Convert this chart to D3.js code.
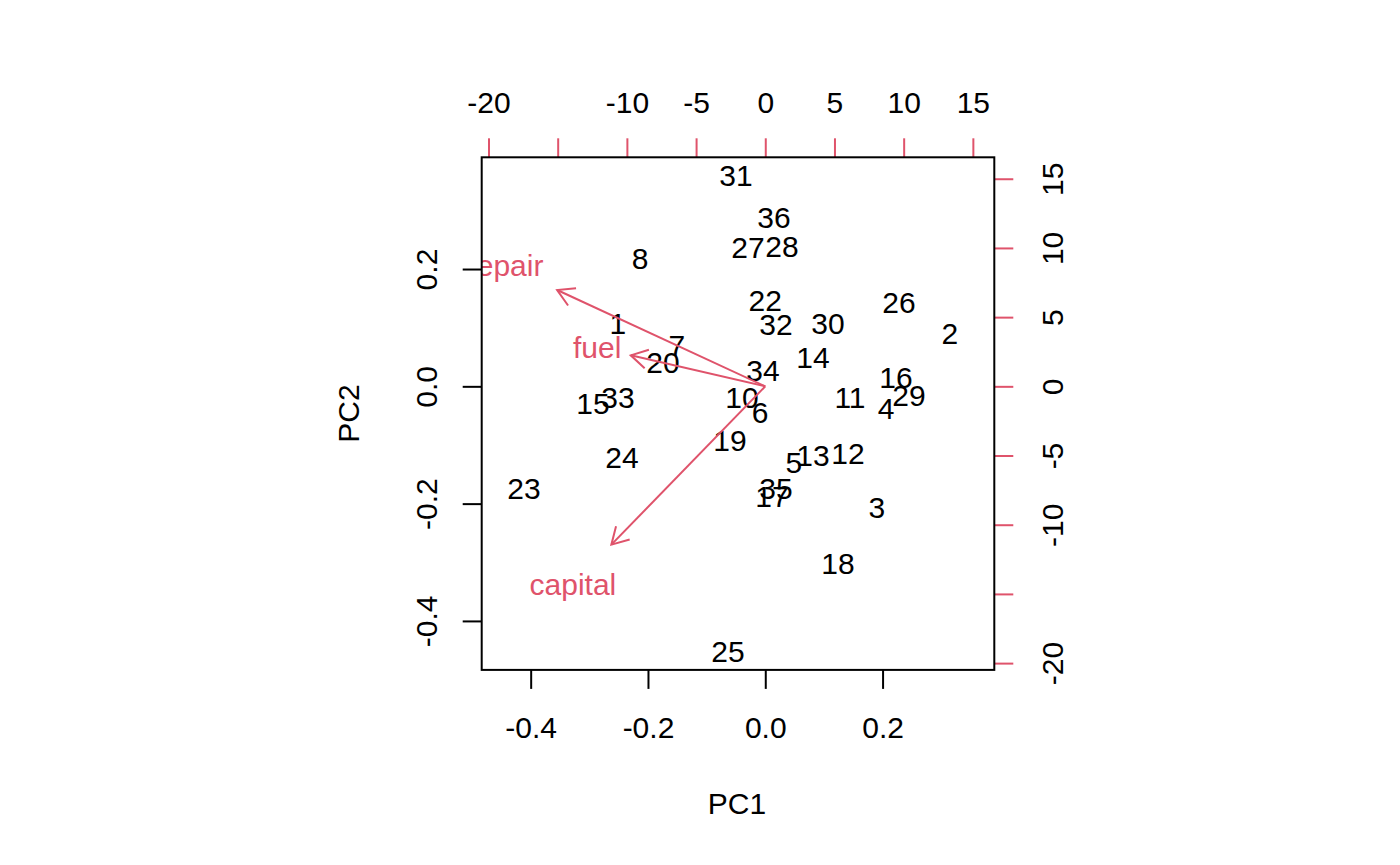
<!DOCTYPE html>
<html>
<head>
<meta charset="utf-8">
<script src="https://cdn.jsdelivr.net/npm/d3@7"></script>
<style>
	body { margin: 0; background: #fff; }
	svg text { font-family: "Liberation Sans", Arial, Helvetica, sans-serif; }
</style>
</head>
<body>
<div id="chart"></div>
<script>
// biplot of PC1/PC2 scores (black) and variable loadings (red arrows)

// observation labels (9 and 21 are not in the data)
var obsLabels = ["1","2","3","4","5","6","7","8","10","11","12","13","14","15","16","17","18",
	"19","20","22","23","24","25","26","27","28","29","30","31","32","33","34","35","36"];
var pc1Scores = [-0.2512, 0.3149, 0.1904, 0.2058, 0.0489, -0.0090, -0.1506, -0.2136, -0.0397, 0.1444,
	0.1410, 0.0813, 0.0813, -0.2938, 0.2228, 0.0114, 0.1240, -0.0602, -0.1744, 0.0000,
	-0.4114, -0.2443, -0.0636, 0.2280, -0.0295, 0.0285, 0.2449, 0.1069, -0.0500, 0.0182,
	-0.2512, -0.0039, 0.0182, 0.0148];
var pc2Scores = [0.1079, 0.0909, -0.2074, -0.0370, -0.1307, -0.0438, 0.0704, 0.2188, -0.0182, -0.0199,
	-0.1137, -0.1171, 0.0483, -0.0285, 0.0142, -0.1871, -0.3020, -0.0916, 0.0414, 0.1471,
	-0.1734, -0.1222, -0.4513, 0.1437, 0.2375, 0.2392, -0.0148, 0.1079, 0.3603, 0.1062,
	-0.0182, 0.0278, -0.1749, 0.2871];

// variables (loadings, on the top/right scale)
var varNames = ["fuel", "repair", "capital"];
var varPC1 = [-12.15, -18.8, -13.9];
var varPC2 = [2.8, 8.7, -14.3];

// ticks
var scoreTicks = [-0.4, -0.2, 0.0, 0.2];
var loadTicks = [-20, -15, -10, -5, 0, 5, 10, 15];
var loadTickLabels = ["-20", "", "-10", "-5", "0", "5", "10", "15"];

var width = 1400, height = 865;
var box = { left: 481.7, right: 994.3, top: 157.3, bottom: 669.9 };
var lim = [-0.4835, 0.3905];
var ratio = 42.38; // loadings / scores scale factor
var red = "#DF536B";
var fontSize = 30;

var svg = d3.select("#chart").append("svg")
	.attr("width", width)
	.attr("height", height);

var x = d3.scaleLinear().domain(lim).range([box.left, box.right]);
var y = d3.scaleLinear().domain(lim).range([box.bottom, box.top]);
var x2 = d3.scaleLinear().domain([lim[0] * ratio, lim[1] * ratio]).range([box.left, box.right]);
var y2 = d3.scaleLinear().domain([lim[0] * ratio, lim[1] * ratio]).range([box.bottom, box.top]);

// plain hyphen minus, like R
function fmt1(d) { return d.toFixed(1); }

// bottom axis
var gb = svg.append("g").attr("transform", "translate(0," + box.bottom + ")")
	.call(d3.axisBottom(x).tickValues(scoreTicks).tickSize(19).tickFormat(fmt1));
gb.selectAll("text").attr("y", 58).attr("dy", "0.35em");

// left axis
var gl = svg.append("g").attr("transform", "translate(" + box.left + ",0)")
	.call(d3.axisLeft(y).tickValues(scoreTicks).tickSize(19).tickFormat(fmt1));
gl.selectAll("text")
	.attr("x", 0).attr("dy", "0.35em")
	.attr("text-anchor", "middle")
	.attr("transform", "translate(-55,0) rotate(-90)");

// top axis (loadings)
var gt = svg.append("g").attr("transform", "translate(0," + box.top + ")")
	.call(d3.axisTop(x2).tickValues(loadTicks).tickSize(19)
		.tickFormat(function(d, i) { return loadTickLabels[i]; }));
gt.selectAll("text").attr("y", -55).attr("dy", "0.35em");

// right axis (loadings)
var gr = svg.append("g").attr("transform", "translate(" + box.right + ",0)")
	.call(d3.axisRight(y2).tickValues(loadTicks).tickSize(19)
		.tickFormat(function(d, i) { return loadTickLabels[i]; }));
gr.selectAll("text")
	.attr("x", 0).attr("dy", "0.35em")
	.attr("text-anchor", "middle")
	.attr("transform", "translate(58,0) rotate(-90)");

[gb, gl, gt, gr].forEach(function(g) {
	g.select(".domain").remove();
	g.selectAll("text").attr("font-size", fontSize).attr("fill", "#000")
		.style("font-family", "'Liberation Sans', Arial, sans-serif");
	g.selectAll("line").attr("stroke-width", 2);
});
[gt, gr].forEach(function(g) { g.selectAll("line").attr("stroke", red); });

// axis titles
svg.append("text")
	.attr("x", (box.left + box.right) / 2 - 1).attr("y", 803).attr("dy", "0.35em")
	.attr("text-anchor", "middle").attr("font-size", fontSize)
	.text("PC1");
svg.append("text")
	.attr("transform", "translate(348," + ((box.top + box.bottom) / 2) + ") rotate(-90)")
	.attr("dy", "0.35em")
	.attr("text-anchor", "middle").attr("font-size", fontSize)
	.text("PC2");

// clip to the plot region
svg.append("clipPath").attr("id", "plotclip")
	.append("rect")
	.attr("x", box.left).attr("y", box.top)
	.attr("width", box.right - box.left).attr("height", box.bottom - box.top);

var plot = svg.append("g").attr("clip-path", "url(#plotclip)");

// observation labels
var obs = obsLabels.map(function(lab, i) { return { label: lab, pc1: pc1Scores[i], pc2: pc2Scores[i] }; });
plot.selectAll("text.obs").data(obs).enter().append("text")
	.attr("class", "obs")
	.attr("x", function(d) { return x(d.pc1); })
	.attr("y", function(d) { return y(d.pc2); })
	.attr("dy", "0.35em")
	.attr("text-anchor", "middle")
	.attr("font-size", fontSize)
	.attr("fill", "#000")
	.text(function(d) { return d.label; });

// variable arrows go to 0.8 of the label position
var vars = varNames.map(function(n, i) { return { name: n, pc1: varPC1[i], pc2: varPC2[i] }; });
var headLen = 19, headAng = Math.PI / 6;

vars.forEach(function(v) {
	var x0 = x2(0), y0 = y2(0);
	var x1 = x2(v.pc1 * 0.8), y1 = y2(v.pc2 * 0.8);
	var a = Math.atan2(y1 - y0, x1 - x0);
	plot.append("line")
		.attr("x1", x0).attr("y1", y0).attr("x2", x1).attr("y2", y1)
		.attr("stroke", red).attr("stroke-width", 2);
	plot.append("path")
		.attr("d", "M" + (x1 - headLen * Math.cos(a - headAng)) + "," + (y1 - headLen * Math.sin(a - headAng)) +
			"L" + x1 + "," + y1 +
			"L" + (x1 - headLen * Math.cos(a + headAng)) + "," + (y1 - headLen * Math.sin(a + headAng)))
		.attr("fill", "none").attr("stroke", red).attr("stroke-width", 2);
	plot.append("text")
		.attr("x", x2(v.pc1)).attr("y", y2(v.pc2))
		.attr("dy", "0.35em")
		.attr("text-anchor", "middle")
		.attr("font-size", fontSize)
		.attr("fill", red)
		.text(v.name);
});

// plot box
svg.append("rect")
	.attr("x", box.left).attr("y", box.top)
	.attr("width", box.right - box.left).attr("height", box.bottom - box.top)
	.attr("fill", "none").attr("stroke", "#000").attr("stroke-width", 2);
</script>
</body>
</html>
